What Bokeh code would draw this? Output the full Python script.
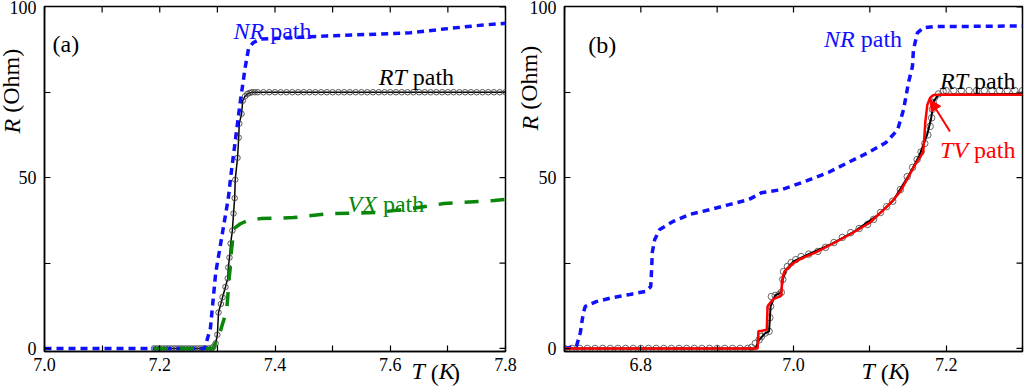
import math
from bokeh.plotting import figure
from bokeh.layouts import row
from bokeh.models import (FixedTicker, Range1d, Label, Arrow, NormalHead,
                          CustomJSTickFormatter, LinearAxis)
from bokeh.embed import file_html
from bokeh.resources import INLINE

FONT = "Liberation Serif"
BLUE = "#1010ff"
GREEN = "#0a870a"
RED = "#ff0000"

# ---------------- Panel (a) data ----------------
a_nr_T = [7.000, 7.278, 7.288, 7.297, 7.309, 7.319, 7.323, 7.332, 7.340, 7.348,
          7.354, 7.362, 7.375, 7.432, 7.490, 7.578, 7.635, 7.693, 7.750, 7.800]
a_nr_R = [0, 0, 6, 22, 34, 44, 50, 62, 72.5, 82,
          87.7, 89.5, 90.6, 91.0, 91.5, 92.0, 92.4, 93.5, 94.5, 95.2]

a_vx_T = [7.190, 7.293, 7.305, 7.316, 7.318, 7.320, 7.322, 7.324, 7.326, 7.328,
          7.340, 7.352, 7.375, 7.432, 7.490, 7.578, 7.635, 7.693, 7.780, 7.800]
a_vx_R = [0, 0, 5, 11, 15, 20, 23, 28, 31, 35,
          36.5, 37.4, 38.0, 38.3, 39.4, 39.8, 40.9, 42.4, 43.3, 43.6]

a_rt_T = [7.190, 7.195, 7.200, 7.205, 7.210, 7.215, 7.220, 7.225, 7.230, 7.235,
          7.240, 7.245, 7.250, 7.255, 7.260, 7.265, 7.270, 7.275, 7.280, 7.285,
          7.290, 7.293, 7.297, 7.300, 7.302, 7.306, 7.309, 7.314, 7.318, 7.319,
          7.321, 7.323, 7.326, 7.328, 7.330, 7.331, 7.335, 7.337, 7.338, 7.342,
          7.344, 7.348, 7.352, 7.356, 7.360, 7.365, 7.370, 7.380, 7.390, 7.400,
          7.410, 7.420, 7.430, 7.440, 7.450, 7.460, 7.470, 7.480, 7.490, 7.500,
          7.510, 7.520, 7.530, 7.540, 7.550, 7.560, 7.570, 7.580, 7.590, 7.600,
          7.610, 7.620, 7.630, 7.640, 7.650, 7.660, 7.670, 7.680, 7.690, 7.700,
          7.710, 7.720, 7.730, 7.740, 7.750, 7.760, 7.770, 7.780, 7.790, 7.800]
a_rt_R = [0, 0, 0, 0, 0, 0, 0, 0, 0, 0,
          0, 0, 0, 0, 0, 0, 0, 0, 0, 0,
          0, 0.5, 1.5, 4, 10.5, 13, 15, 18, 20.5, 23.7,
          26.6, 30.7, 34.5, 39.5, 44, 49.4, 55.8, 61.7, 65.8, 68.7,
          72.5, 73.8, 74.5, 74.8, 75, 75, 75, 75, 75, 75,
          75, 75, 75, 75, 75, 75, 75, 75, 75, 75,
          75, 75, 75, 75, 75, 75, 75, 75, 75, 75,
          75, 75, 75, 75, 75, 75, 75, 75, 75, 75,
          75, 75, 75, 75, 75, 75, 75, 75, 75, 75]

a_x_range = (7.0, 7.8)
a_x_ticks = [7.0, 7.2, 7.4, 7.6, 7.8]
a_x_labels = ["7.0", "7.2", "7.4", "7.6", "7.8"]
a_x_minor = [7.1, 7.3, 7.5, 7.7]

# ---------------- Panel (b) data ----------------
b_nr_T = [6.700, 6.7156, 6.7208, 6.7247, 6.7273, 6.7416, 6.7636, 6.7857, 6.8065, 6.8130,
          6.8143, 6.8150, 6.8182, 6.8247, 6.8416, 6.8636, 6.8896, 6.9156, 6.9416, 6.9584,
          6.9844, 7.0143, 7.0455, 7.0714, 7.0974, 7.1208, 7.1364, 7.1442, 7.1506, 7.1558,
          7.1571, 7.1623, 7.1701, 7.1831, 7.3000]
b_nr_R = [0, 0.6, 4.7, 10.5, 12.3, 13.7, 14.9, 15.8, 16.7, 18.1,
          24.0, 28.1, 31.9, 34.8, 37.1, 39.2, 40.6, 42.1, 43.6, 45.6,
          46.5, 48.8, 51.5, 54.4, 57.3, 60.2, 64.0, 69.9, 77.8, 82.5,
          87.4, 92.4, 93.9, 94.2, 94.4]

b_rt_T = [6.700, 6.710, 6.720, 6.730, 6.740, 6.750, 6.760, 6.770, 6.780, 6.790,
          6.800, 6.810, 6.820, 6.830, 6.840, 6.850, 6.860, 6.870, 6.880, 6.890,
          6.900, 6.910, 6.920, 6.930, 6.940, 6.945, 6.950, 6.955, 6.958, 6.963,
          6.968, 6.969, 6.970, 6.971, 6.976, 6.981, 6.984, 6.986, 6.987, 6.992,
          6.997, 7.003, 7.010, 7.020, 7.032, 7.042, 7.053, 7.064, 7.075, 7.086,
          7.097, 7.105, 7.114, 7.122, 7.130, 7.140, 7.149, 7.156, 7.162, 7.167,
          7.172, 7.176, 7.179, 7.181, 7.182, 7.183, 7.185, 7.190, 7.196, 7.200,
          7.210, 7.220, 7.230, 7.240, 7.250, 7.260, 7.270, 7.280, 7.290, 7.300]
b_rt_R = [0, 0, 0, 0, 0, 0, 0, 0, 0, 0,
          0, 0, 0, 0, 0, 0, 0, 0, 0, 0,
          0, 0, 0, 0, 0, 0.3, 1.5, 2.5, 3.5, 4.5,
          5, 9, 12.3, 15.2, 15.5, 15.8, 16.4, 20.2, 22.5, 24,
          25.1, 26, 26.9, 27.6, 28.4, 29.6, 31, 32.5, 33.9, 35.1,
          36.3, 37.8, 39.8, 41.5, 43.1, 46.5, 50.3, 53, 55.3, 57.5,
          60, 62.5, 65, 67.5, 70, 72, 73.5, 74.5, 75.2, 75.5,
          75.5, 75.5, 75.5, 75.5, 75.5, 75.5, 75.5, 75.5, 75.5, 75.5]

b_rtl_T = [6.700, 6.950, 6.955, 6.963, 6.968, 6.970, 6.976, 6.984, 6.986, 6.990,
           7.000, 7.020, 7.050, 7.080, 7.110, 7.130, 7.150, 7.165, 7.175, 7.180,
           7.184, 7.190, 7.300]
b_rtl_R = [0, 0, 2.5, 4.5, 5, 12.3, 15.5, 16.4, 20.2, 23,
           25.5, 27.6, 30.6, 34.3, 39, 43.1, 50.3, 56.5, 62.5, 67,
           72.5, 74.3, 74.5]

b_tv_T = [6.700, 6.953, 6.954, 6.959, 6.965, 6.966, 6.970, 6.974, 6.980, 6.984,
          6.985, 6.988, 7.000, 7.010, 7.030, 7.050, 7.075, 7.100, 7.120, 7.131,
          7.140, 7.150, 7.160, 7.166, 7.170, 7.1714, 7.1727, 7.1753, 7.179, 7.183,
          7.190, 7.300]
b_tv_R = [0, 0, 5, 5.2, 5.5, 12.3, 13.5, 14.5, 15, 15.5,
          20, 22.5, 25, 26.3, 28.2, 30.5, 33.5, 36.8, 41, 43.5,
          46, 50, 54, 56, 57.6, 61.7, 66.4, 71.3, 73.4, 74.1,
          74.3, 74.3]

b_x_range = (6.7, 7.3)
b_x_ticks = [6.8, 7.0, 7.2]
b_x_labels = ["6.8", "7.0", "7.2"]
b_x_minor = [6.7, 6.9, 7.1, 7.3]

y_range = (-0.9, 100.1)
y_ticks = [0, 50, 100]
y_labels = ["0", "50", "100"]
y_minor = [25, 75]

# axis titles, split into italic / upright pieces
x_title_italic = ["T", "K"]
x_title_upright = ["(", ")"]
y_title_italic = ["R"]
y_title_upright = ["(Ohm)"]

JS_FMT = ("for (let i = 0; i < tvals.length; i++) "
          "{ if (Math.abs(tvals[i] - tick) < 1e-9) return tlabels[i]; } return '';")


def cfg_axis(ax, ticks, minor, labels, standoff):
    ax.ticker = FixedTicker(ticks=ticks, minor_ticks=minor)
    ax.formatter = CustomJSTickFormatter(args=dict(tvals=ticks, tlabels=labels), code=JS_FMT)
    ax.major_tick_in = 6
    ax.major_tick_out = 0
    ax.minor_tick_in = 6
    ax.minor_tick_out = 0
    ax.axis_line_width = 1.5
    ax.axis_line_color = "black"
    ax.major_tick_line_width = 1.2
    ax.minor_tick_line_width = 1.2
    ax.major_label_text_font = FONT
    ax.major_label_text_font_size = "18px"
    ax.major_label_text_color = "black"
    ax.major_label_standoff = standoff


def text_axis(p, side, positions, labels, italic, standoff, angle="horizontal"):
    ax = LinearAxis(ticker=FixedTicker(ticks=positions, minor_ticks=[]),
                    formatter=CustomJSTickFormatter(args=dict(tvals=positions, tlabels=labels),
                                                    code=JS_FMT),
                    major_tick_in=0, major_tick_out=0, minor_tick_in=0, minor_tick_out=0,
                    axis_line_color=None, major_tick_line_color=None,
                    minor_tick_line_color=None,
                    major_label_standoff=standoff, major_label_text_font=FONT,
                    major_label_text_font_size="24px", major_label_text_color="black",
                    major_label_text_font_style="italic" if italic else "normal",
                    major_label_orientation=angle)
    p.add_layout(ax, side)


def make_fig(xr, width, bl, br, xt, xm, xl, shift):
    p = figure(width=width, height=389, output_backend="svg", toolbar_location=None,
               x_range=Range1d(*xr), y_range=Range1d(*y_range),
               min_border_left=bl, min_border_right=br, min_border_top=6,
               min_border_bottom=38, margin=(0, 0, 0, -shift))
    p.grid.visible = False
    p.outline_line_color = "black"
    p.outline_line_width = 1.5
    p.background_fill_color = "white"
    p.border_fill_color = None
    cfg_axis(p.xaxis[0], xt, xm, xl, 6)
    cfg_axis(p.yaxis[0], y_ticks, y_minor, y_labels, 8)
    # inward ticks on the top and right frame edges (half of each dash is clipped)
    tx = xt + xm
    p.scatter(tx, [y_range[1]] * len(tx), marker="dash", size=12, angle=math.pi / 2,
              line_color="black", line_width=1.2)
    ty = y_ticks + y_minor
    p.scatter([xr[1]] * len(ty), ty, marker="dash", size=12,
              line_color="black", line_width=1.2)
    return p


def titles(p, xpos_it, xpos_up, ypos_it, ypos_up, ys_a):
    text_axis(p, "below", xpos_it, x_title_italic, True, -16)
    text_axis(p, "below", xpos_up, x_title_upright, False, -27)
    text_axis(p, "left", ypos_it, y_title_italic, True, ys_a, math.pi / 2)
    text_axis(p, "left", ypos_up, y_title_upright, False, -28, math.pi / 2)


def txt(p, x, y, text, color="black", italic=False, size="24px", xoff=0):
    p.add_layout(Label(x=x, y=y, x_offset=xoff,
                       text=text, text_font=FONT, text_font_size=size,
                       text_font_style="italic" if italic else "normal",
                       text_color=color, text_align="left", text_baseline="alphabetic"))


def path_label(p, x, y, ital, color, off):
    txt(p, x, y, ital, color=color, italic=True)
    txt(p, x, y, "path", color=color, xoff=off)


# ---------------- figure (a) ----------------
pa = make_fig(a_x_range, 536, 62, 13, a_x_ticks, a_x_minor, a_x_labels, 18)
pa.line(a_rt_T, a_rt_R, line_color="black", line_width=1.5)
pa.scatter(a_rt_T, a_rt_R, marker="circle", size=5.5, fill_color=None,
           line_color="#444444", line_width=0.9)
pa.line(a_nr_T, a_nr_R, line_color=BLUE, line_width=3.5, line_dash="7 5")
pa.line(a_vx_T, a_vx_R, line_color=GREEN, line_width=3.5, line_dash="14 12")

txt(pa, 7.014, 89.2, "(a)")
path_label(pa, 7.328, 93.0, "NR", BLUE, 36.7)
path_label(pa, 7.580, 79.5, "RT", "black", 34)
path_label(pa, 7.526, 42.4, "VX", GREEN, 35.3)
titles(pa, [7.6485, 7.6981], [7.6773, 7.7140], [67.2], [87.7], -6)

# ---------------- figure (b) ----------------
pb = make_fig(b_x_range, 524, 61, 2, b_x_ticks, b_x_minor, b_x_labels, 18)
pb.scatter(b_rt_T, b_rt_R, marker="circle", size=6.5, fill_color=None,
           line_color="#555555", line_width=0.9)
pb.line(b_rtl_T, b_rtl_R, line_color="black", line_width=2)
pb.line(b_nr_T, b_nr_R, line_color=BLUE, line_width=3.5, line_dash="7 5")
pb.line(b_tv_T, b_tv_R, line_color=RED, line_width=2.5)

txt(pb, 6.731, 88.9, "(b)")
path_label(pb, 7.040, 90.6, "NR", BLUE, 36.7)
path_label(pb, 7.192, 78.4, "RT", "black", 34)
path_label(pb, 7.192, 58.2, "TV", RED, 34)
pb.add_layout(Arrow(end=NormalHead(size=11, fill_color=RED, line_color=RED),
                    x_start=7.205, y_start=63.5, x_end=7.179, y_end=72.8,
                    line_color=RED, line_width=2))
titles(pb, [7.0979, 7.1351], [7.1195, 7.1468], [68.1], [88.6], -4)

layout = row(pa, pb)
open("out.html", "w").write(file_html(layout, INLINE))
